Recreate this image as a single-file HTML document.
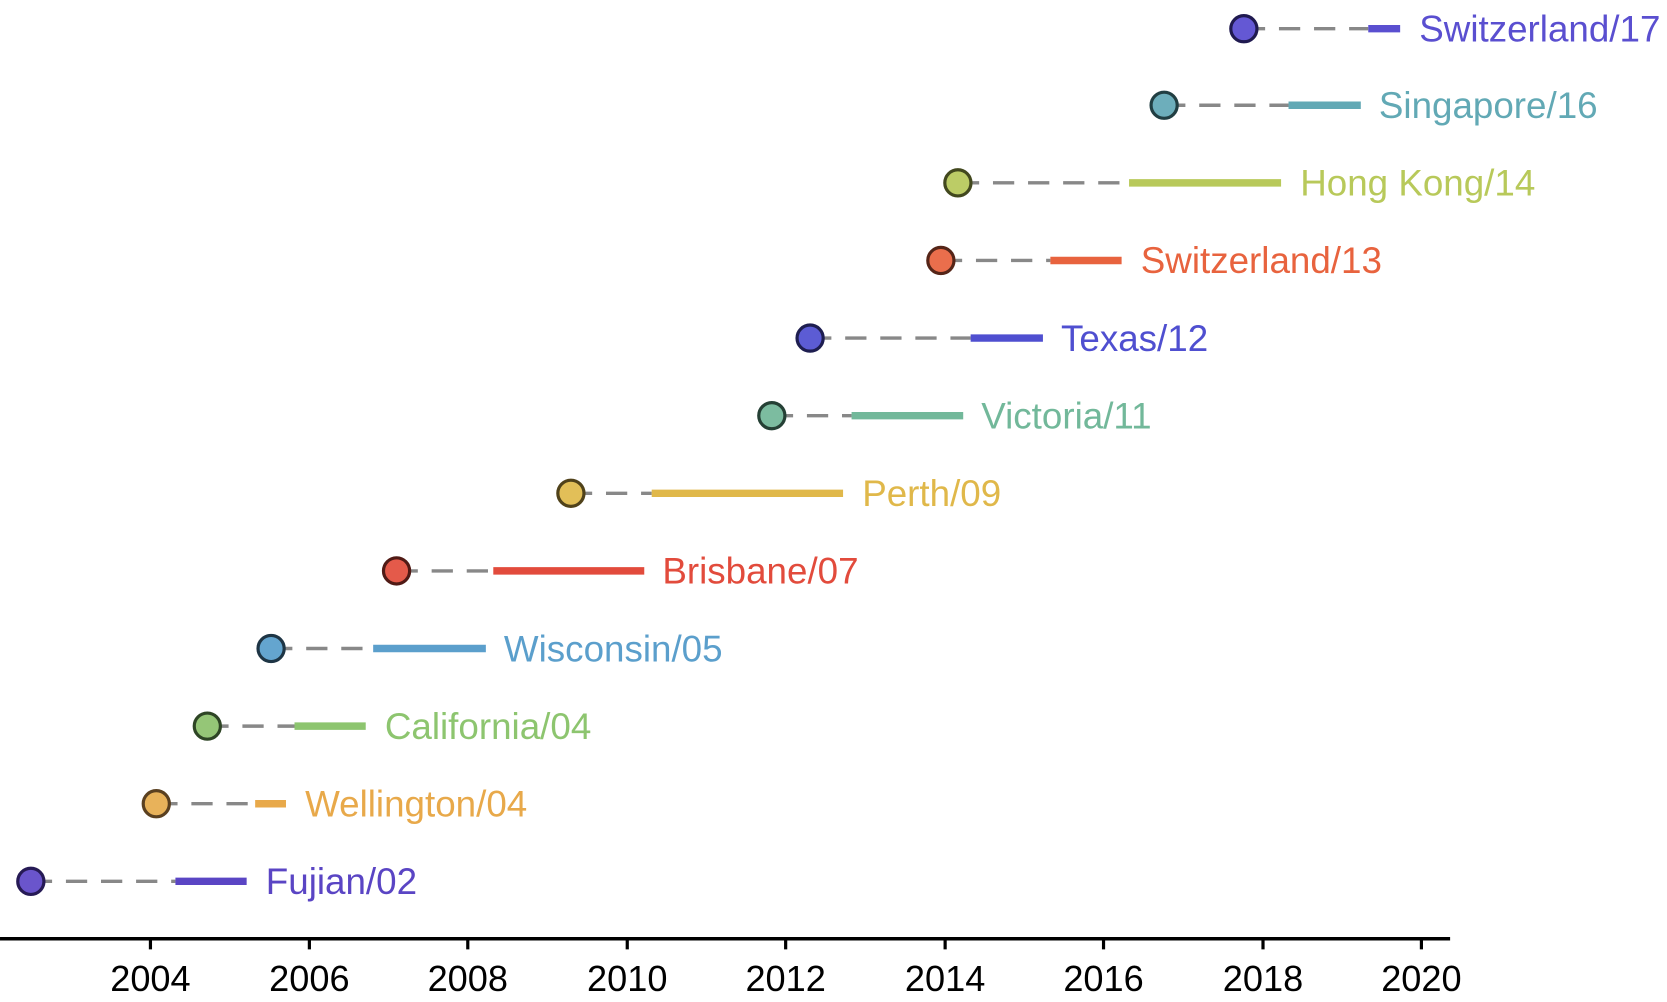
<!DOCTYPE html>
<html><head><meta charset="utf-8"><style>html,body{margin:0;padding:0;background:#fff}svg{display:block}</style></head>
<body>
<svg width="1667" height="1002" viewBox="0 0 1568 942.5" xmlns="http://www.w3.org/2000/svg" font-family="Liberation Sans, sans-serif">
<g stroke="#888" stroke-width="3.2" stroke-dasharray="20 13">
<line x1="29" y1="829" x2="165" y2="829"/>
<line x1="147" y1="756" x2="240" y2="756"/>
<line x1="195" y1="683" x2="277" y2="683"/>
<line x1="255" y1="610" x2="351" y2="610"/>
<line x1="373" y1="537" x2="464" y2="537"/>
<line x1="537" y1="464" x2="613" y2="464"/>
<line x1="726" y1="391" x2="801" y2="391"/>
<line x1="762" y1="318" x2="913" y2="318"/>
<line x1="885" y1="245" x2="988" y2="245"/>
<line x1="901" y1="172" x2="1062" y2="172"/>
<line x1="1095" y1="99" x2="1212" y2="99"/>
<line x1="1170" y1="27" x2="1287" y2="27"/>
</g>
<g stroke-width="7">
<line x1="165" y1="829" x2="232" y2="829" stroke="#5a45c4"/>
<line x1="240" y1="756" x2="269" y2="756" stroke="#e8a94a"/>
<line x1="277" y1="683" x2="344" y2="683" stroke="#8dc56f"/>
<line x1="351" y1="610" x2="457" y2="610" stroke="#5b9fcc"/>
<line x1="464" y1="537" x2="606" y2="537" stroke="#e24b3c"/>
<line x1="613" y1="464" x2="793" y2="464" stroke="#e0b84a"/>
<line x1="801" y1="391" x2="906" y2="391" stroke="#72b89a"/>
<line x1="913" y1="318" x2="981" y2="318" stroke="#4f4fd0"/>
<line x1="988" y1="245" x2="1055" y2="245" stroke="#e8633e"/>
<line x1="1062" y1="172" x2="1205" y2="172" stroke="#b8c95a"/>
<line x1="1212" y1="99" x2="1280" y2="99" stroke="#62a9b5"/>
<line x1="1287" y1="27" x2="1317" y2="27" stroke="#5a4fd0"/>
</g>
<g stroke-width="3">
<circle cx="29" cy="829" r="12.3" fill="#6a55cc" stroke="#261a55"/>
<circle cx="147" cy="756" r="12.3" fill="#e8b25a" stroke="#5a4020"/>
<circle cx="195" cy="683" r="12.3" fill="#95c677" stroke="#2e4525"/>
<circle cx="255" cy="610" r="12.3" fill="#64a5cf" stroke="#1e3545"/>
<circle cx="373" cy="537" r="12.3" fill="#e45a4a" stroke="#501a15"/>
<circle cx="537" cy="464" r="12.3" fill="#e2bf58" stroke="#50421a"/>
<circle cx="726" cy="391" r="12.3" fill="#7cbca0" stroke="#254035"/>
<circle cx="762" cy="318" r="12.3" fill="#5c5cd4" stroke="#1e1e50"/>
<circle cx="885" cy="245" r="12.3" fill="#ea6e4c" stroke="#552518"/>
<circle cx="901" cy="172" r="12.3" fill="#bccc66" stroke="#42481e"/>
<circle cx="1095" cy="99" r="12.3" fill="#6daebb" stroke="#213e42"/>
<circle cx="1170" cy="27" r="12.3" fill="#6458d4" stroke="#201a50"/>
</g>
<g font-size="34.6">
<text x="250" y="841" fill="#5a45c4">Fujian/02</text>
<text x="287" y="768" fill="#e8a94a">Wellington/04</text>
<text x="362" y="695" fill="#8dc56f">California/04</text>
<text x="474" y="622" fill="#5b9fcc">Wisconsin/05</text>
<text x="623" y="549" fill="#e24b3c">Brisbane/07</text>
<text x="811" y="476" fill="#e0b84a">Perth/09</text>
<text x="923" y="403" fill="#72b89a">Victoria/11</text>
<text x="998" y="330" fill="#4f4fd0">Texas/12</text>
<text x="1073" y="257" fill="#e8633e">Switzerland/13</text>
<text x="1223" y="184" fill="#b8c95a">Hong Kong/14</text>
<text x="1297" y="111" fill="#62a9b5">Singapore/16</text>
<text x="1335" y="39" fill="#5a4fd0">Switzerland/17</text>
</g>
<line x1="0" y1="883" x2="1364" y2="883" stroke="#000" stroke-width="3.2"/>
<g stroke="#000" stroke-width="3">
<line x1="141.5" y1="883" x2="141.5" y2="893"/>
<line x1="291" y1="883" x2="291" y2="893"/>
<line x1="440" y1="883" x2="440" y2="893"/>
<line x1="590" y1="883" x2="590" y2="893"/>
<line x1="739" y1="883" x2="739" y2="893"/>
<line x1="889" y1="883" x2="889" y2="893"/>
<line x1="1038" y1="883" x2="1038" y2="893"/>
<line x1="1188" y1="883" x2="1188" y2="893"/>
<line x1="1337" y1="883" x2="1337" y2="893"/>
</g>
<g font-size="34" text-anchor="middle" fill="#000">
<text x="141.5" y="932">2004</text>
<text x="291" y="932">2006</text>
<text x="440" y="932">2008</text>
<text x="590" y="932">2010</text>
<text x="739" y="932">2012</text>
<text x="889" y="932">2014</text>
<text x="1038" y="932">2016</text>
<text x="1188" y="932">2018</text>
<text x="1337" y="932">2020</text>
</g>
</svg>
</body></html>
